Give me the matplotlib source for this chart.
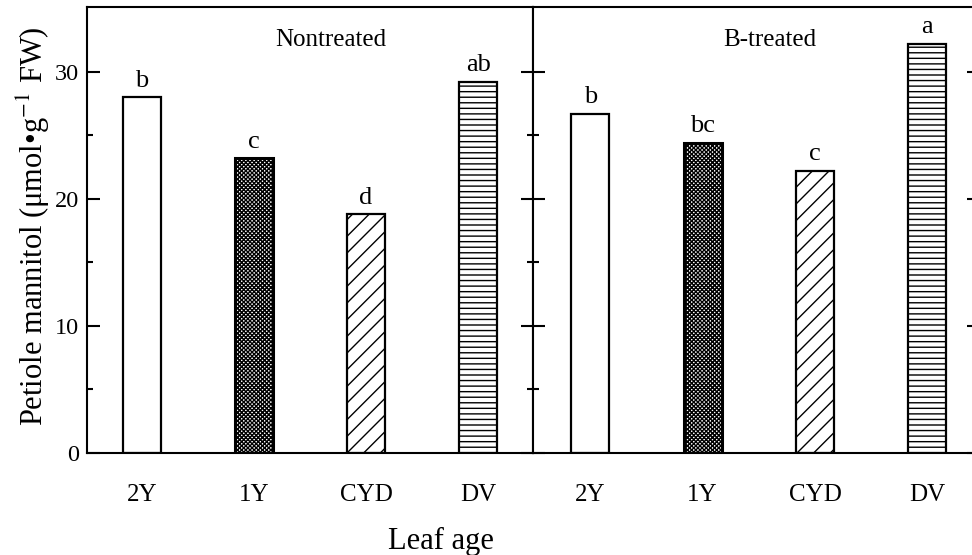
import numpy as np
import matplotlib
matplotlib.use('Agg')
import matplotlib.pyplot as plt

plt.rcParams['font.family'] = ['Liberation Serif', 'DejaVu Serif']
plt.rcParams['mathtext.fontset'] = 'stix'
plt.rcParams['hatch.linewidth'] = 1.0

categories = ['2Y', '1Y', 'CYD', 'DV']
nontreated = [28.0, 23.2, 18.8, 29.2]
btreated = [26.7, 24.4, 22.2, 32.2]
letters_non = ['b', 'c', 'd', 'ab']
letters_b = ['b', 'bc', 'c', 'a']
panel_titles = ['Nontreated', 'B-treated']

hatches = ['', 'xxxxxxxx', '//', '---']

fig = plt.figure(figsize=(9.72, 5.55), dpi=100)
W, H = 972, 555
bottom = 1 - 453 / H
height = (453 - 7) / H
ax1 = fig.add_axes([87 / W, bottom, 446 / W, height])
ax2 = fig.add_axes([533 / W, bottom, 446 / W, height])

x = np.arange(len(categories))


def draw_panel(ax, vals, letters, title, tx):
    for xi, v, h, lt in zip(x, vals, hatches, letters):
        lw = 2.2 if h.startswith('x') else 1.6
        ax.bar(xi, v, width=0.34, color='white', edgecolor='black',
               hatch=h, linewidth=lw)
        ax.annotate(lt, (xi, v), xytext=(0, 4), textcoords='offset points',
                    ha='center', va='bottom', fontsize=19)
    ax.set_ylim(0, 35.1)
    ax.set_xticks(x)
    ax.set_xticklabels(categories, fontsize=18)
    ax.tick_params(axis='x', length=0, pad=22)
    ax.set_yticks([0, 10, 20, 30])
    ax.set_yticks([5, 15, 25], minor=True)
    for s in ax.spines.values():
        s.set_linewidth(1.5)
    ax.text(tx, 0.926, title, transform=ax.transAxes, ha='center',
            va='center', fontsize=18)


draw_panel(ax1, nontreated, letters_non, panel_titles[0], 0.547)
ax1.set_xlim(-0.49, 3.49)
ax1.tick_params(axis='y', which='major', direction='in', length=9, width=1.5,
                labelsize=17.5, pad=6)
ax1.tick_params(axis='y', which='minor', direction='in', length=4.5, width=1.5)

draw_panel(ax2, btreated, letters_b, panel_titles[1], 0.53)
ax2.set_xlim(-0.51, 3.46)
ax2.tick_params(axis='y', which='major', direction='inout', length=17,
                width=1.5, labelleft=False, right=True)
ax2.tick_params(axis='y', which='minor', direction='inout', length=9,
                width=1.5, right=True)

fig.text(33 / W, 1 - 226 / H, 'Petiole mannitol (μmol•g$^{-1}$ FW)',
         rotation=90, ha='center', va='center', fontsize=22)
fig.text(441 / W, 1 - 541 / H, 'Leaf age', ha='center', va='center',
         fontsize=22)

fig.savefig('out.png', dpi=100)
